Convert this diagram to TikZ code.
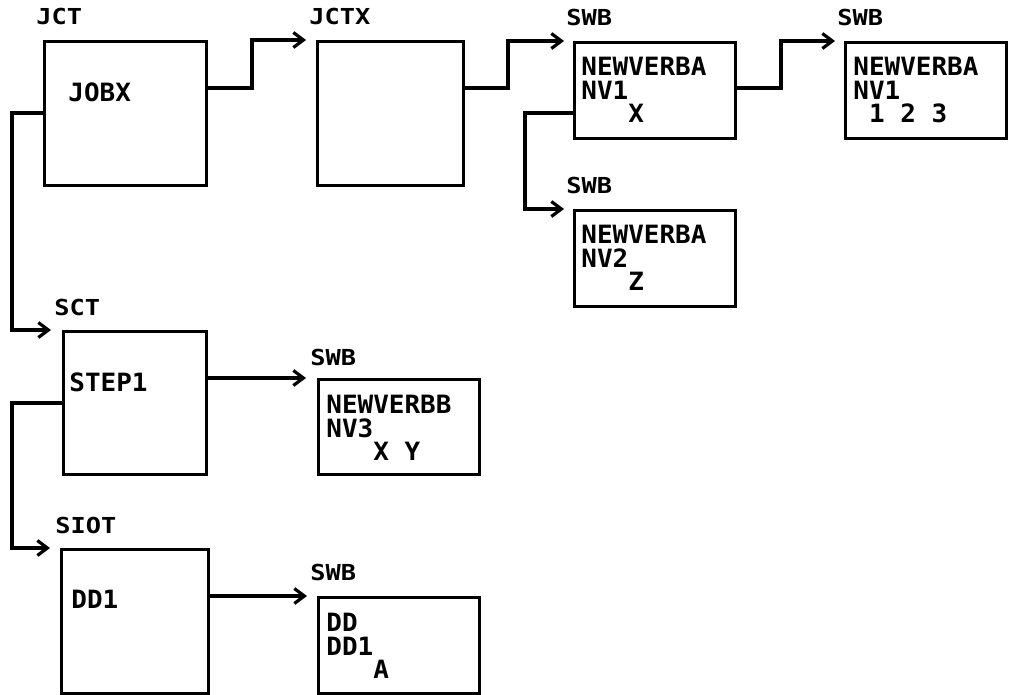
\documentclass[tikz,border=0pt]{standalone}
\usepackage{fontspec}
\usetikzlibrary{arrows.meta, positioning, calc}
\newfontfamily\boxfont[FakeStretch=1.03]{DejaVu Sans Mono}
\newfontfamily\tagfont[FakeStretch=1.15]{DejaVu Sans Mono}
\tikzset{
	cblock/.style={
		rectangle, anchor=north west, inner sep=0pt,
		draw=black, line width=1.5pt
	},
	bigblock/.style={cblock, minimum width=73pt, minimum height=72pt},
	swbblock/.style={cblock, minimum width=80.5pt, minimum height=48pt},
	tagtext/.style={
		anchor=base west, inner sep=0pt,
		font=\tagfont\bfseries\fontsize{11pt}{11pt}\selectfont
	},
	bodytext/.style={
		anchor=north west, inner sep=0pt, align=left,
		font=\boxfont\bfseries\fontsize{12.6pt}{11.8pt}\selectfont
	},
	linkarrow/.style={
		line width=1.7pt, draw=black,
		-{Straight Barb[length=5pt, width=7.5pt, line width=1.6pt]}
	}
}

\begin{document}
\begin{tikzpicture}[x=0.5pt, y=-0.5pt]
	\useasboundingbox (0,0) rectangle (1011,695);

	%% ═══════════════════════════════
	%%  ROW 1 — JCT, JCTX and the SWB chain
	%% ═══════════════════════════════
	\node[bigblock, minimum width=81pt] (jct) at (43,40) {};
	\node[bigblock] (jctx) at (316,40) {};
	\node[swbblock] (swbA) at (573,41) {};
	\node[swbblock] (swbC) at (844,41) {};
	\node[swbblock] (swbB) at (573,209) {};

	\node[tagtext] (jctTag)  at ($(jct.north west)+(-7,-15)$)  {JCT};
	\node[tagtext] (jctxTag) at ($(jctx.north west)+(-7,-15)$) {JCTX};
	\node[tagtext] (swbATag) at ($(swbA.north west)+(-7,-15)$) {SWB};
	\node[tagtext] (swbCTag) at ($(swbC.north west)+(-7,-15)$) {SWB};
	\node[tagtext] (swbBTag) at ($(swbB.north west)+(-7,-15)$) {SWB};

	\node[bodytext] (jobxTxt) at ($(jct.north west)+(25,42)$) {JOBX};
	\node[bodytext] (swbATxt) at ($(swbA.north west)+(8,16)$)
		{NEWVERBA\\NV1\\\hphantom{000}X};
	\node[bodytext] (swbCTxt) at ($(swbC.north west)+(9,16)$)
		{NEWVERBA\\NV1\\\hphantom{0}1\hphantom{0}2\hphantom{0}3};
	\node[bodytext] (swbBTxt) at ($(swbB.north west)+(8,16)$)
		{NEWVERBA\\NV2\\\hphantom{000}Z};

	%% ═══════════════════════════════
	%%  ROW 2 — SCT / STEP1
	%% ═══════════════════════════════
	\node[bigblock, minimum width=71.5pt, minimum height=71.5pt] (sct) at (62,330) {};
	\node[swbblock, minimum height=47.5pt] (swbD) at (317,378) {};

	\node[tagtext] (sctTag)  at ($(sct.north west)+(-8,-15)$)  {SCT};
	\node[tagtext] (swbDTag) at ($(swbD.north west)+(-7,-13)$) {SWB};

	\node[bodytext] (step1Txt) at ($(sct.north west)+(7,42)$) {STEP1};
	\node[bodytext] (swbDTxt)  at ($(swbD.north west)+(9,17)$)
		{NEWVERBB\\NV3\\\hphantom{000}X\hphantom{0}Y};

	%% ═══════════════════════════════
	%%  ROW 3 — SIOT / DD1
	%% ═══════════════════════════════
	\node[bigblock, minimum width=73.5pt] (siot) at (60,548) {};
	\node[swbblock] (swbE) at (317,596) {};

	\node[tagtext] (siotTag) at ($(siot.north west)+(-5,-15)$) {SIOT};
	\node[tagtext] (swbETag) at ($(swbE.north west)+(-7,-16)$) {SWB};

	\node[bodytext] (dd1Txt)  at ($(siot.north west)+(11,42)$) {DD1};
	\node[bodytext] (swbETxt) at ($(swbE.north west)+(9,17)$)
		{DD\\DD1\\\hphantom{000}A};

	% JCT → JCTX → SWB → SWB
	\draw[linkarrow] ($(jct.north east)+(0,48)$) -| ($(jctx.north west)+(-64,0)$)
		-- ($(jctx.north west)+(-10,0)$);
	\draw[linkarrow] ($(jctx.north east)+(0,48)$) -| ($(swbA.north west)+(-65,0)$)
		-- ($(swbA.north west)+(-9,0)$);
	\draw[linkarrow] ($(swbA.north east)+(0,47)$) -| ($(swbC.north west)+(-63,0)$)
		-- ($(swbC.north west)+(-9,0)$);

	% SWB → SWB (below)
	\draw[linkarrow] ($(swbA.north west)+(0,72)$) -- ++(-48,0)
		|- ($(swbB.north west)+(-9,0)$);

	% JCT → SCT → SIOT
	\draw[linkarrow] ($(jct.north west)+(0,73)$) -- ++(-31,0)
		|- ($(sct.north west)+(-11,0)$);
	\draw[linkarrow] ($(sct.north west)+(0,73)$) -- ++(-50,0)
		|- ($(siot.north west)+(-10,0)$);

	% STEP1 → SWB, DD1 → SWB
	\draw[linkarrow] ($(sct.north east)+(0,48)$) -- ($(swbD.north west)+(-11,0)$);
	\draw[linkarrow] ($(siot.north east)+(0,48)$) -- ($(swbE.north west)+(-10,0)$);

\end{tikzpicture}
\end{document}
